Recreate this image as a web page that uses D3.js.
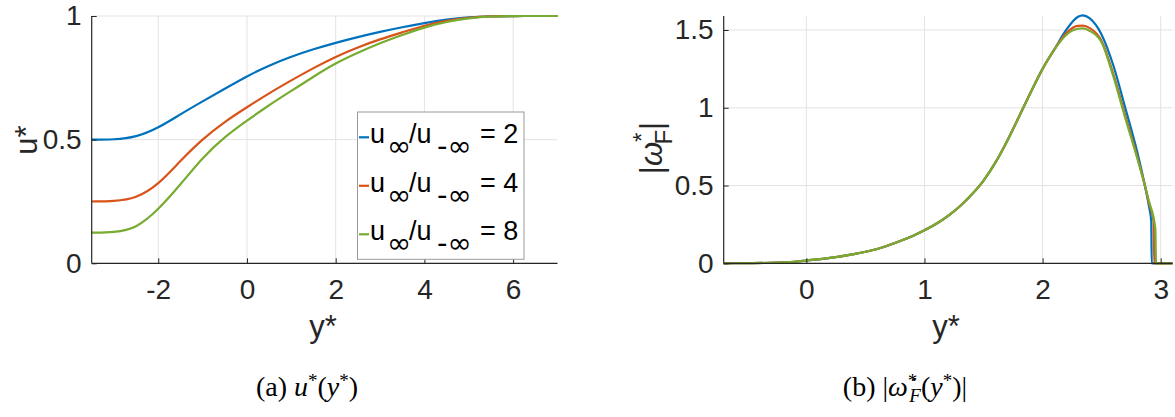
<!DOCTYPE html>
<html><head><meta charset="utf-8">
<script src="https://cdn.jsdelivr.net/npm/d3@7/dist/d3.min.js"></script>
<style>body{margin:0;background:#fff}svg{display:block}</style>
</head><body>
<svg id="c" width="1175" height="417"></svg>
<script>
// ---- Panel (a): u*(y*) ----
const uX = [-3.5,-3,-2.5,-2,-1.5,-1,-0.5,0,0.5,1,1.5,2,2.5,3,3.5,4,4.5,5,5.5,6,6.5,7];
const uRatio2 = [0.5,0.5,0.51,0.547,0.603,0.655,0.706,0.757,0.80,0.836,0.866,0.892,0.915,0.936,0.955,0.972,0.986,0.995,0.999,1,1,1];
const uRatio4 = [0.25,0.251,0.262,0.317,0.415,0.503,0.573,0.631,0.688,0.74,0.79,0.836,0.874,0.906,0.934,0.962,0.982,0.994,0.999,1,1,1];
const uRatio8 = [0.124,0.125,0.14,0.216,0.318,0.428,0.512,0.577,0.64,0.697,0.755,0.81,0.852,0.891,0.924,0.954,0.977,0.992,0.999,1,1,1];
const uXTicks = [-2,0,2,4,6];
const uYTicks = [0,0.5,1];
const legendRatios = ["2","4","8"];

// ---- Panel (b): |omega_F*(y*)| ----
const wX = [-0.7,-0.5,-0.3,-0.1,0,0.2,0.4,0.6,0.8,0.9,1.0,1.1,1.2,1.3,1.4,1.5,1.6,1.7,1.8,1.9,2.0,2.1,2.2,2.3,2.34,2.4,2.5,2.6,2.7,2.8,2.866,2.9];
const wCommon = [0,0.001,0.003,0.01,0.018,0.035,0.059,0.092,0.145,0.176,0.212,0.254,0.305,0.367,0.442,0.532,0.647,0.787,0.942,1.1,1.25,1.375];
const wPeak2 = [1.5,1.585,1.594,1.575,1.47,1.27,1.0,0.72,0.5,0.37];
const wPeak4 = [1.48,1.527,1.528,1.512,1.43,1.215,0.95,0.69,0.5,0.39];
const wPeak8 = [1.468,1.508,1.51,1.494,1.42,1.2,0.935,0.68,0.5,0.40];
const wTailX2 = [2.92,2.924,3.1], wTailY2 = [0.27,0,0];
const wTailX4 = [2.94,2.946,3.1], wTailY4 = [0.27,0,0];
const wTailX8 = [2.955,2.96,3.1], wTailY8 = [0.22,0,0];
const wXTicks = [0,1,2,3];
const wYTicks = [0,0.5,1,1.5];

const colors = ["#0072BD","#D95319","#77AC30"];
const svg = d3.select("#c");
const axisColor = "#262626", gridColor = "#e3e3e3";
const tickFont = "'Liberation Sans', Arial, sans-serif";

function panel(opts){
  const {x, y, xTicks, yTicks} = opts;
  const g = svg.append("g");
  const [x0,x1] = x.range(), [y0,y1] = y.range();
  g.selectAll(".gx").data(xTicks).join("line")
    .attr("x1",d=>x(d)).attr("x2",d=>x(d)).attr("y1",y0).attr("y2",y1)
    .attr("stroke",gridColor).attr("stroke-width",1);
  g.selectAll(".gy").data(yTicks).join("line")
    .attr("y1",d=>y(d)).attr("y2",d=>y(d)).attr("x1",x0).attr("x2",x1)
    .attr("stroke",gridColor).attr("stroke-width",1);
  return g;
}
function axes(g, opts){
  const {x, y, xTicks, yTicks, yFmt} = opts;
  const [x0,x1] = x.range(), [y0,y1] = y.range();
  const xa = d3.axisBottom(x).tickValues(xTicks).tickSize(-5).tickPadding(16).tickFormat(d=>String(d));
  const ya = d3.axisLeft(y).tickValues(yTicks).tickSize(-5).tickPadding(10).tickFormat(yFmt);
  const gx = g.append("g").attr("transform",`translate(0,${y0})`).call(xa);
  const gy = g.append("g").attr("transform",`translate(${x0},0)`).call(ya);
  [gx,gy].forEach(a=>{
    a.select(".domain").attr("stroke",axisColor).attr("stroke-width",1.2);
    a.selectAll(".tick line").attr("stroke",axisColor).attr("stroke-width",1);
    a.selectAll("text").attr("fill",axisColor).attr("font-family",tickFont).attr("font-size",28);
  });
  gx.select(".domain").attr("d",`M${x0},0H${x1}`);
  gy.select(".domain").attr("d",`M0,${y0}V${y1}`);
}

// ----- Panel a -----
const xa = d3.scaleLinear().domain([-3.5,7]).range([91.7,557.5]);
const ya = d3.scaleLinear().domain([0,1]).range([263.3,16]);
const optA = {x:xa, y:ya, xTicks:uXTicks, yTicks:uYTicks, yFmt:d=>String(d)};
const gA = panel(optA);
const lineA = d3.line().x(d=>xa(d[0])).y(d=>ya(d[1])).curve(d3.curveBasis);
[uRatio2,uRatio4,uRatio8].forEach((s,i)=>{
  gA.append("path").attr("d",lineA(uX.map((v,j)=>[v,s[j]])))
    .attr("fill","none").attr("stroke",colors[i]).attr("stroke-width",2.2);
});
axes(gA,optA);

// legend
const lg = gA.append("g");
lg.append("rect").attr("x",357.5).attr("y",112).attr("width",166.5).attr("height",147.3)
  .attr("fill","#fff").attr("stroke","#9a9a9a").attr("stroke-width",1);
const symFont = "'DejaVu Sans', sans-serif";
legendRatios.forEach((r,i)=>{
  const cy = 137.3 + i*48.5;
  lg.append("line").attr("x1",359).attr("x2",369).attr("y1",cy).attr("y2",cy)
    .attr("stroke",colors[i]).attr("stroke-width",2.2);
  const t = lg.append("text").attr("y",cy+6)
    .attr("font-family",tickFont).attr("font-size",27).attr("fill","#000");
  t.append("tspan").attr("x",370).text("u");
  t.append("tspan").attr("x",387).attr("dy",13).attr("font-size",29).attr("font-family",symFont).text("\u221E");
  t.append("tspan").attr("x",409).attr("dy",-13).text("/u");
  t.append("tspan").attr("x",437).attr("dy",13).attr("font-size",29).attr("font-family",symFont).text("-\u221E");
  t.append("tspan").attr("x",480).attr("dy",-13).text("= " + r);
});

// axis labels a
svg.append("text").attr("transform","translate(37,140) rotate(-90)").attr("text-anchor","middle")
  .attr("font-family",tickFont).attr("font-size",31).attr("fill",axisColor).text("u*");
svg.append("text").attr("x",323).attr("y",337).attr("text-anchor","middle")
  .attr("font-family",tickFont).attr("font-size",31).attr("fill",axisColor).text("y*");

// ----- Panel b -----
const xb = d3.scaleLinear().domain([-0.7,3.1]).range([723.7,1172.5]);
const yb = d3.scaleLinear().domain([0,1.59]).range([263.3,16]);
const optB = {x:xb, y:yb, xTicks:wXTicks, yTicks:wYTicks, yFmt:d=>String(d)};
const gB = panel(optB);
const lineB = d3.line().x(d=>xb(d[0])).y(d=>yb(d[1])).curve(d3.curveMonotoneX);
const nC = wCommon.length;
[[wPeak2,wTailX2,wTailY2],[wPeak4,wTailX4,wTailY4],[wPeak8,wTailX8,wTailY8]].forEach(([pk,tx,ty],i)=>{
  const pts = wX.map((v,j)=>[v, j<nC ? wCommon[j] : pk[j-nC]]);
  tx.forEach((v,j)=>pts.push([v,ty[j]]));
  gB.append("path").attr("d",lineB(pts))
    .attr("fill","none").attr("stroke",colors[i]).attr("stroke-width",2.2);
});
axes(gB,optB);

// axis labels b
const yl = svg.append("text").attr("transform","translate(662,148) rotate(-90)").attr("text-anchor","middle")
  .attr("font-family",tickFont).attr("font-size",31).attr("fill",axisColor);
yl.append("tspan").text("|");
yl.append("tspan").attr("font-style","italic").text("\u03C9");
yl.append("tspan").attr("dy",-12).attr("font-size",24).text("*");
yl.append("tspan").attr("dy",22).attr("dx",-12).attr("font-size",24).text("F");
yl.append("tspan").attr("dy",-10).text("|");
svg.append("text").attr("x",946).attr("y",337).attr("text-anchor","middle")
  .attr("font-family",tickFont).attr("font-size",31).attr("fill",axisColor).text("y*");

// captions
const serif = "'Liberation Serif', 'Times New Roman', serif";
const ca = svg.append("text").attr("x",307).attr("y",396).attr("text-anchor","middle")
  .attr("font-family",serif).attr("font-size",28).attr("fill","#000");
ca.append("tspan").text("(a) ");
ca.append("tspan").attr("font-style","italic").text("u");
ca.append("tspan").attr("dy",-9).attr("font-size",19).text("*");
ca.append("tspan").attr("dy",9).text("(");
ca.append("tspan").attr("font-style","italic").text("y");
ca.append("tspan").attr("dy",-9).attr("font-size",19).text("*");
ca.append("tspan").attr("dy",9).text(")");

const cb = svg.append("text").attr("x",905).attr("y",396).attr("text-anchor","middle")
  .attr("font-family",serif).attr("font-size",28).attr("fill","#000");
cb.append("tspan").text("(b) |");
cb.append("tspan").attr("font-style","italic").text("\u03C9\u0307");
cb.append("tspan").attr("dy",-9).attr("font-size",19).text("*");
cb.append("tspan").attr("dy",15).attr("dx",-8).attr("font-size",19).attr("font-style","italic").text("F");
cb.append("tspan").attr("dy",-6).text("(");
cb.append("tspan").attr("font-style","italic").text("y");
cb.append("tspan").attr("dy",-9).attr("font-size",19).text("*");
cb.append("tspan").attr("dy",9).text(")|");
</script>
</body></html>
